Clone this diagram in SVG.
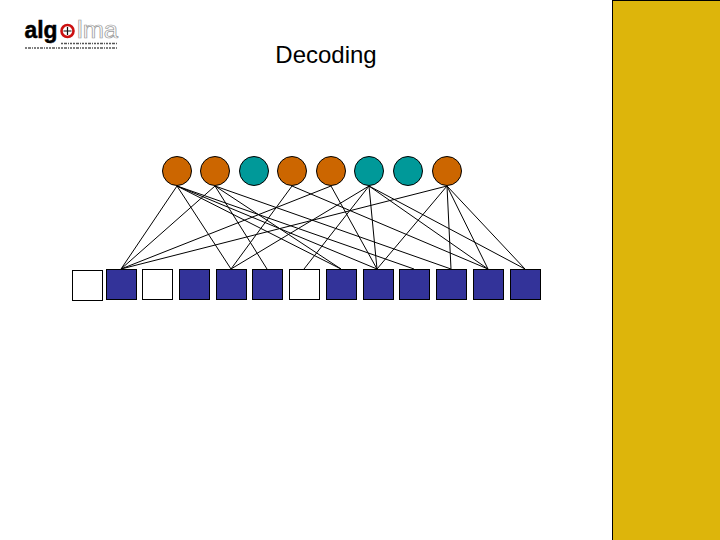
<svg xmlns="http://www.w3.org/2000/svg" width="720" height="540" viewBox="0 0 720 540">
<style>
.c{stroke:#000;stroke-width:1}
.o{fill:#CC6600}.t{fill:#009999}
.b{fill:#333399;stroke:#000;stroke-width:1}.w{fill:#fff;stroke:#000;stroke-width:1}
#connectors line{stroke:#000;stroke-width:1}
text{font-family:"Liberation Sans",Arial,sans-serif}
.micro{stroke:#555;stroke-width:1.6;fill:none;stroke-dasharray:2 1 3 1 1 1 2 1}
</style>
<rect width="720" height="540" fill="#fff"/>
<g id="side-panel"><rect x="612.5" y="0.5" width="108" height="540" fill="#DDB50B" stroke="#000"/></g>
<g id="logo">
<text x="24.5" y="37.5" font-size="24" font-weight="bold" fill="#000" stroke="#000" stroke-width=".5" textLength="33" lengthAdjust="spacingAndGlyphs">alg</text>
<circle cx="67.5" cy="31" r="6" fill="#fff" stroke="#CC1111" stroke-width="2.6"/>
<path d="M67.5 27V35M63.5 31H71.500" stroke="#111" stroke-width="1.2"/>
<text x="77" y="37.500" font-size="23" fill="#fff" stroke="#999" stroke-width=".7" textLength="41" lengthAdjust="spacingAndGlyphs">lma</text>
<path class="micro" d="M61 43.500H118M25 48H118"/>
</g>
<g id="title"><text x="326" y="63" font-size="24" text-anchor="middle" fill="#000">Decoding</text></g>
<g id="connectors">
<line x1="177" y1="186" x2="121" y2="269"/><line x1="177" y1="186" x2="231" y2="269"/><line x1="177" y1="186" x2="341" y2="269"/><line x1="177" y1="186" x2="377" y2="269"/><line x1="177" y1="186" x2="414" y2="269"/>
<line x1="215" y1="186" x2="121" y2="269"/><line x1="215" y1="186" x2="267" y2="269"/><line x1="215" y1="186" x2="341" y2="269"/><line x1="215" y1="186" x2="451" y2="269"/>
<line x1="292" y1="186" x2="231" y2="269"/><line x1="292" y1="186" x2="488" y2="269"/>
<line x1="331" y1="186" x2="121" y2="269"/><line x1="331" y1="186" x2="377" y2="269"/>
<line x1="369" y1="186" x2="231" y2="269"/><line x1="369" y1="186" x2="304" y2="269"/><line x1="369" y1="186" x2="377" y2="269"/><line x1="369" y1="186" x2="488" y2="269"/><line x1="369" y1="186" x2="525" y2="269"/>
<line x1="447" y1="186" x2="121" y2="269"/><line x1="447" y1="186" x2="377" y2="269"/><line x1="447" y1="186" x2="451" y2="269"/><line x1="447" y1="186" x2="488" y2="269"/><line x1="447" y1="186" x2="525" y2="269"/>
</g>
<g id="var1"><circle class="c o" cx="177" cy="171" r="14.5"/></g>
<g id="var2"><circle class="c o" cx="215" cy="171" r="14.5"/></g>
<g id="var3"><circle class="c t" cx="254" cy="171" r="14.5"/></g>
<g id="var4"><circle class="c o" cx="292" cy="171" r="14.5"/></g>
<g id="var5"><circle class="c o" cx="331" cy="171" r="14.5"/></g>
<g id="var6"><circle class="c t" cx="369" cy="171" r="14.5"/></g>
<g id="var7"><circle class="c t" cx="408" cy="171" r="14.5"/></g>
<g id="var8"><circle class="c o" cx="447" cy="171" r="14.5"/></g>
<g id="chk1"><rect class="w" x="72.5" y="270.5" width="30" height="30"/></g>
<g id="chk2"><rect class="b" x="106.5" y="269.5" width="30" height="30"/></g>
<g id="chk3"><rect class="w" x="142.5" y="269.5" width="30" height="30"/></g>
<g id="chk4"><rect class="b" x="179.5" y="269.5" width="30" height="30"/></g>
<g id="chk5"><rect class="b" x="216.5" y="269.5" width="30" height="30"/></g>
<g id="chk6"><rect class="b" x="252.5" y="269.5" width="30" height="30"/></g>
<g id="chk7"><rect class="w" x="289.5" y="269.5" width="30" height="30"/></g>
<g id="chk8"><rect class="b" x="326.5" y="269.5" width="30" height="30"/></g>
<g id="chk9"><rect class="b" x="363.5" y="269.5" width="30" height="30"/></g>
<g id="chk10"><rect class="b" x="399.5" y="269.5" width="30" height="30"/></g>
<g id="chk11"><rect class="b" x="436.5" y="269.5" width="30" height="30"/></g>
<g id="chk12"><rect class="b" x="473.5" y="269.5" width="30" height="30"/></g>
<g id="chk13"><rect class="b" x="510.5" y="269.5" width="30" height="30"/></g>
</svg>
